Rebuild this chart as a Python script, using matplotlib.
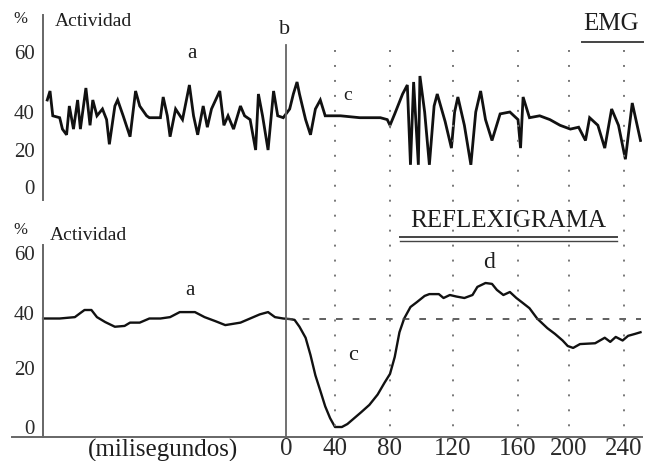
import numpy as np
import matplotlib.pyplot as plt
from matplotlib.lines import Line2D
from matplotlib.transforms import blended_transform_factory

W, H = 647, 461

# EMG (arriba): tiempo en ms, actividad en %
emg_t = [-173, -171, -169, -164, -162, -159, -157, -154, -151, -149,
         -145, -142, -140, -137, -133, -130, -128, -124, -122, -118,
         -113, -109, -106, -101, -99, -91, -89, -86, -84, -80,
         -75, -70, -67, -64, -60, -57, -54, -48, -45, -42,
         -38, -33, -30, -26, -22, -20, -17, -13, -9, -6,
         -2, 3, 6, 9, 11, 16, 20, 24, 28, 32,
         44, 58, 73, 78, 80, 83, 88, 91, 93, 95,
         98, 99, 102, 105, 108, 110, 115, 119, 121, 123,
         127, 131, 134, 137, 140, 144, 149, 155, 160, 162,
         164, 169, 177, 185, 193, 201, 207, 212, 215, 221,
         226, 231, 236, 241, 246, 252]
emg_v = [44, 47, 38, 37, 31, 28, 42, 31, 44, 31,
         48, 33, 44, 38, 41, 36, 23, 42, 44, 38,
         27, 47, 42, 38, 37, 37, 45, 38, 27, 41,
         36, 49, 38, 28, 42, 32, 41, 47, 33, 38,
         31, 42, 38, 36, 20, 46, 38, 20, 47, 38,
         37, 41, 46, 50, 46, 36, 28, 41, 44, 38,
         38, 37, 37, 36, 33, 39, 46, 49, 12, 50,
         12, 52, 40, 12, 42, 46, 35, 21, 40, 45,
         33, 12, 40, 47, 36, 25, 39, 40, 36, 21,
         45, 37, 38, 36, 33, 31, 32, 25, 37, 33,
         21, 41, 33, 15, 43, 25]

# Reflexigrama (abajo)
ref_t = [-176, -164, -153, -149, -146, -141, -137, -131, -124, -117,
         -113, -106, -99, -91, -84, -77, -66, -59, -51, -44,
         -33, -26, -19, -13, -8, -2, 3, 7, 11, 16,
         20, 24, 28, 32, 36, 40, 45, 49, 54, 59,
         65, 71, 76, 80, 83, 86, 89, 93, 97, 102,
         105, 111, 114, 118, 122, 127, 132, 135, 140, 144,
         147, 151, 155, 159, 163, 169, 175, 183, 189, 195,
         199, 203, 208, 219, 226, 230, 234, 239, 243, 248,
         252]
ref_v = [38, 38, 38.5, 40, 41, 41, 38.5, 36.7, 35, 35.3,
         36.5, 36.5, 38, 38, 38.5, 40.3, 40.3, 38.5, 37, 35.6,
         36.5, 38, 39.5, 40.3, 38.5, 38, 37.8, 37.5, 35, 31,
         24.7, 17.5, 12.3, 7, 3, 0, 0, 1, 3, 5,
         7.5, 11, 15, 18, 24, 33, 38, 42, 43.6, 45.7,
         46.3, 46.3, 45, 46, 45.5, 45, 46, 48.7, 50, 49.7,
         47.7, 46, 47, 45, 43.6, 41.6, 38, 34.5, 32.4, 30,
         28, 27.3, 28.7, 29, 31, 29.5, 31.3, 30, 31.7, 32.4,
         33]

x_ticks = [0, 40, 80, 120, 160, 200, 240]
y_ticks = [0, 20, 40, 60]
base_level = 38
y_axis_ms = -176

# the scanned axes are not evenly spaced: tick value -> pixel
x_knots = [-400, 0, 40, 80, 120, 160, 200, 240, 400]
x_pix = [-266, 286, 335, 390, 453, 518, 569, 624, 844]
top_knots = [-40, 0, 20, 40, 60, 120]
top_pix = [261, 187, 150, 112, 52, -128]
bot_knots = [-40, 0, 20, 40, 60, 120]
bot_pix = [545, 427, 368, 313, 253, 73]


def scale(vals, pix, flip=False):
    vals = np.asarray(vals, float)
    pix = -np.asarray(pix, float) if flip else np.asarray(pix, float)
    return (lambda v: np.interp(v, vals, pix),
            lambda p: np.interp(p, pix, vals))


plt.rcParams['font.family'] = ['Liberation Serif', 'DejaVu Serif']
ink = '#111111'
grey = '#666666'

fig = plt.figure(figsize=(W / 100, H / 100), dpi=100)
fig.patch.set_facecolor('white')

xf, xi = scale(x_knots, x_pix)
ax1 = fig.add_axes([12 / W, 1 - 200 / H, 630 / W, 185 / H])
ax2 = fig.add_axes([12 / W, 1 - 437 / H, 630 / W, 192 / H])

for ax, kn, px, top, bot in [(ax1, top_knots, top_pix, 15, 200),
                             (ax2, bot_knots, bot_pix, 245, 437)]:
    yf, yi = scale(kn, px, flip=True)
    ax.set_xscale('function', functions=(xf, xi))
    ax.set_yscale('function', functions=(yf, yi))
    ax.set_xlim(xi(12), xi(642))
    ax.set_ylim(yi(-bot), yi(-top))
    ax.set_facecolor('none')
    for s in ['top', 'right', 'bottom']:
        ax.spines[s].set_visible(False)
    ax.spines['left'].set_position(('data', y_axis_ms))
    ax.spines['left'].set_color(grey)
    ax.spines['left'].set_linewidth(1.4)
    ax.set_yticks(y_ticks)
    ax.set_yticklabels([str(v) for v in y_ticks], fontsize=15)
    ax.tick_params(axis='y', length=0, pad=6, colors='#2a2a2a')
    ax.minorticks_off()

ax1.set_xticks([])
ax2.spines['bottom'].set_visible(True)
ax2.spines['bottom'].set_color(grey)
ax2.spines['bottom'].set_linewidth(1.4)
ax2.set_xticks(x_ticks)
ax2.set_xticklabels([str(v) for v in x_ticks], fontsize=18)
ax2.tick_params(axis='x', length=0, pad=1, colors='#2a2a2a')

ax1.plot(emg_t, emg_v, color=ink, lw=2.0, solid_joinstyle='miter')
ax2.plot(ref_t, ref_v, color=ink, lw=1.7)
ax2.plot([0, 252], [base_level, base_level], color='#444444', lw=1.2,
         ls=(0, (4, 6)))

# dotted time grid and stimulus line across both panels
trans = blended_transform_factory(ax2.transData, fig.transFigure)
for t in x_ticks[1:]:
    fig.add_artist(Line2D([t, t], [1 - 50 / H, 1 - 430 / H], transform=trans,
                          color='#777777', lw=1.4, ls=(0, (1, 6.7))))
fig.add_artist(Line2D([0, 0], [1 - 45 / H, 1 - 437 / H], transform=trans,
                      color=grey, lw=1.3))


def ftext(x, y, s, size, **kw):
    kw.setdefault('ha', 'center')
    fig.text(x / W, 1 - y / H, s, fontsize=size, va='center', color='#1e1e1e', **kw)


def uline(x0, x1, y, lw=1.4):
    fig.add_artist(Line2D([x0 / W, x1 / W], [1 - y / H, 1 - y / H],
                          transform=fig.transFigure, color='#444444', lw=lw))


ftext(20, 19, '%', 12)
ftext(55, 22, 'Actividad', 14, ha='left')
ftext(192, 54, 'a', 15)
ftext(285, 30, 'b', 16)
ftext(348, 96, 'c', 14)
ftext(611, 24, 'EMG', 18)
uline(582, 643, 42)

ftext(20, 230, '%', 12)
ftext(50, 235, 'Actividad', 14, ha='left')
ftext(508, 221, 'REFLEXIGRAMA', 18)
uline(400, 617, 237)
uline(400, 617, 241, lw=1.0)
ftext(190, 290, 'a', 15)
ftext(353, 355, 'c', 16)
ftext(489, 262, 'd', 17)
ftext(163, 450, '(milisegundos)', 18)

fig.savefig('out.png', dpi=100)
